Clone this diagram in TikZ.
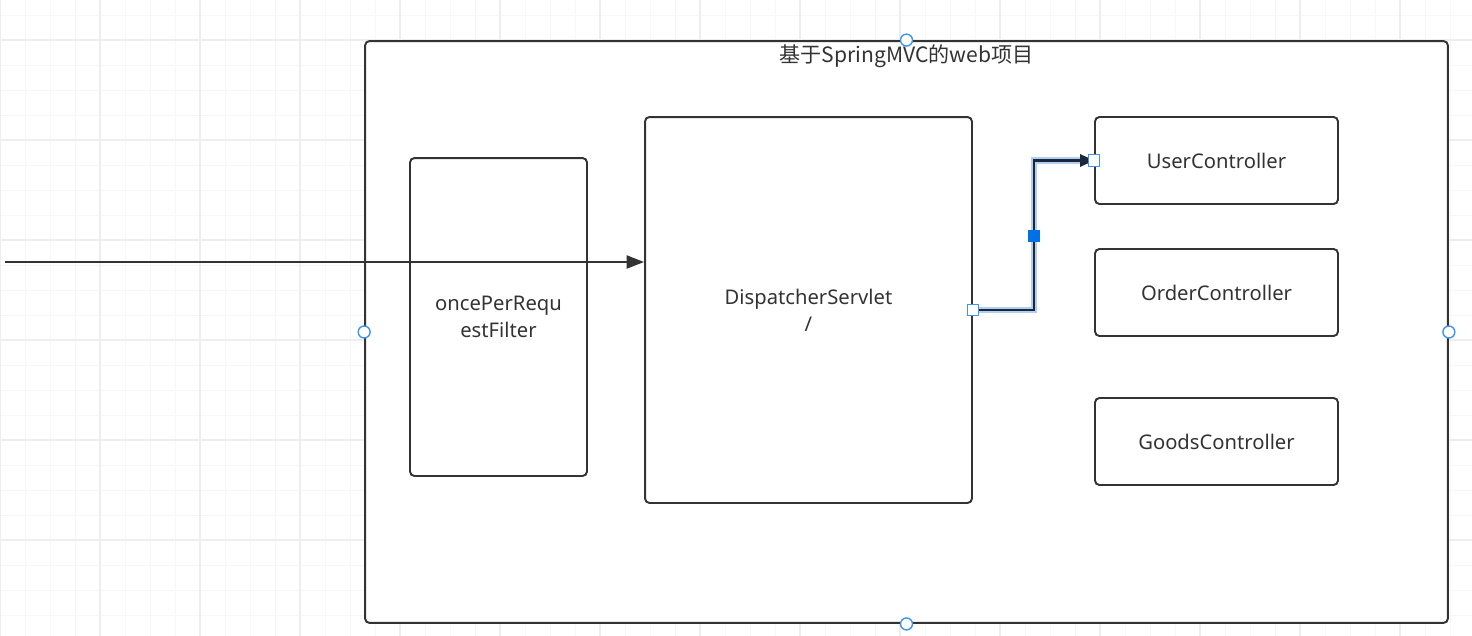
\documentclass[tikz,border=0pt]{standalone}
\usepackage{fontspec}
\setmainfont{Noto Sans}
\newfontfamily\cjk{Noto Sans CJK SC}
\usetikzlibrary{arrows.meta}
\definecolor{line1}{RGB}{51, 51, 51}
\definecolor{blue1}{RGB}{0, 112, 230}
\definecolor{halo1}{RGB}{175, 208, 240}
\definecolor{navy1}{RGB}{28, 40, 58}
\definecolor{grid1}{RGB}{247, 247, 247}
\definecolor{grid2}{RGB}{238, 238, 238}

\tikzset{
  box/.style={draw=line1, fill=white, rounded corners=2.5pt, align=center, text=line1,
    inner sep=0pt, font=\fontsize{11.5}{15.5}\selectfont},
  handle/.style={circle, draw=blue1!75, fill=white, line width=0.8pt, minimum size=6.8pt, inner sep=0pt},
  port/.style={rectangle, draw=blue1!75, fill=white, line width=0.8pt, minimum size=6.5pt, inner sep=0pt},
}

\begin{document}
\begin{tikzpicture}[x=0.02cm, y=-0.02cm, line width=1.1pt]
  \useasboundingbox (0,0) rectangle (1472,636);
  % faint canvas grid
  \foreach \x in {0,25,...,1475}
    \draw[grid1, line width=0.5pt] (\x,0) -- (\x,636);
  \foreach \y in {15,40,...,636}
    \draw[grid1, line width=0.5pt] (0,\y) -- (1472,\y);
  \foreach \x in {0,100,...,1400}
    \draw[grid2, line width=0.6pt] (\x,0) -- (\x,636);
  \foreach \y in {40,140,...,636}
    \draw[grid2, line width=0.6pt] (0,\y) -- (1472,\y);

  \node[box, minimum width=21.66cm, minimum height=11.64cm] (frame) at (906.5,332) {};
  \node[text=line1, font=\cjk\fontsize{12}{14}\selectfont] (title) at (906.5,56) {基于SpringMVC的web项目};

  \node[box, minimum width=3.54cm, minimum height=6.36cm] (filter) at (498.5,317) {oncePerRequ\\estFilter};
  \node[box, minimum width=6.54cm, minimum height=7.72cm] (disp) at (808.5,310) {DispatcherServlet\\/};

  \node[box, minimum width=4.86cm, minimum height=1.74cm] (user) at (1216.5,160.5) {UserController};
  \node[box, minimum width=4.86cm, minimum height=1.74cm] (order) at (1216.5,292.5) {OrderController};
  \node[box, minimum width=4.86cm, minimum height=1.74cm] (goods) at (1216.5,441.5) {GoodsController};

  \coordinate (src) at (5,262);
  \draw[line1, -{Triangle[length=10pt, width=7.5pt]}] (src) -- (src -| disp.west);

  \coordinate (bend) at (1034,310);
  \draw[halo1, line width=3.6pt] (disp.east) -- (bend) |- (user.west);
  \draw[navy1, line width=1.4pt, -{Triangle[length=8pt, width=7pt]}] (disp.east) -- (bend) |- (user.west);

  % selection handles
  \foreach \p in {frame.west, frame.north, frame.east, frame.south}
    \node[handle] at (\p) {};
  \node[port] at (disp.east) {};
  \node[port] at (user.west) {};
  \node[rectangle, fill=blue1, minimum size=6.8pt, inner sep=0pt] (mid) at (1034,236) {};
\end{tikzpicture}
\end{document}
